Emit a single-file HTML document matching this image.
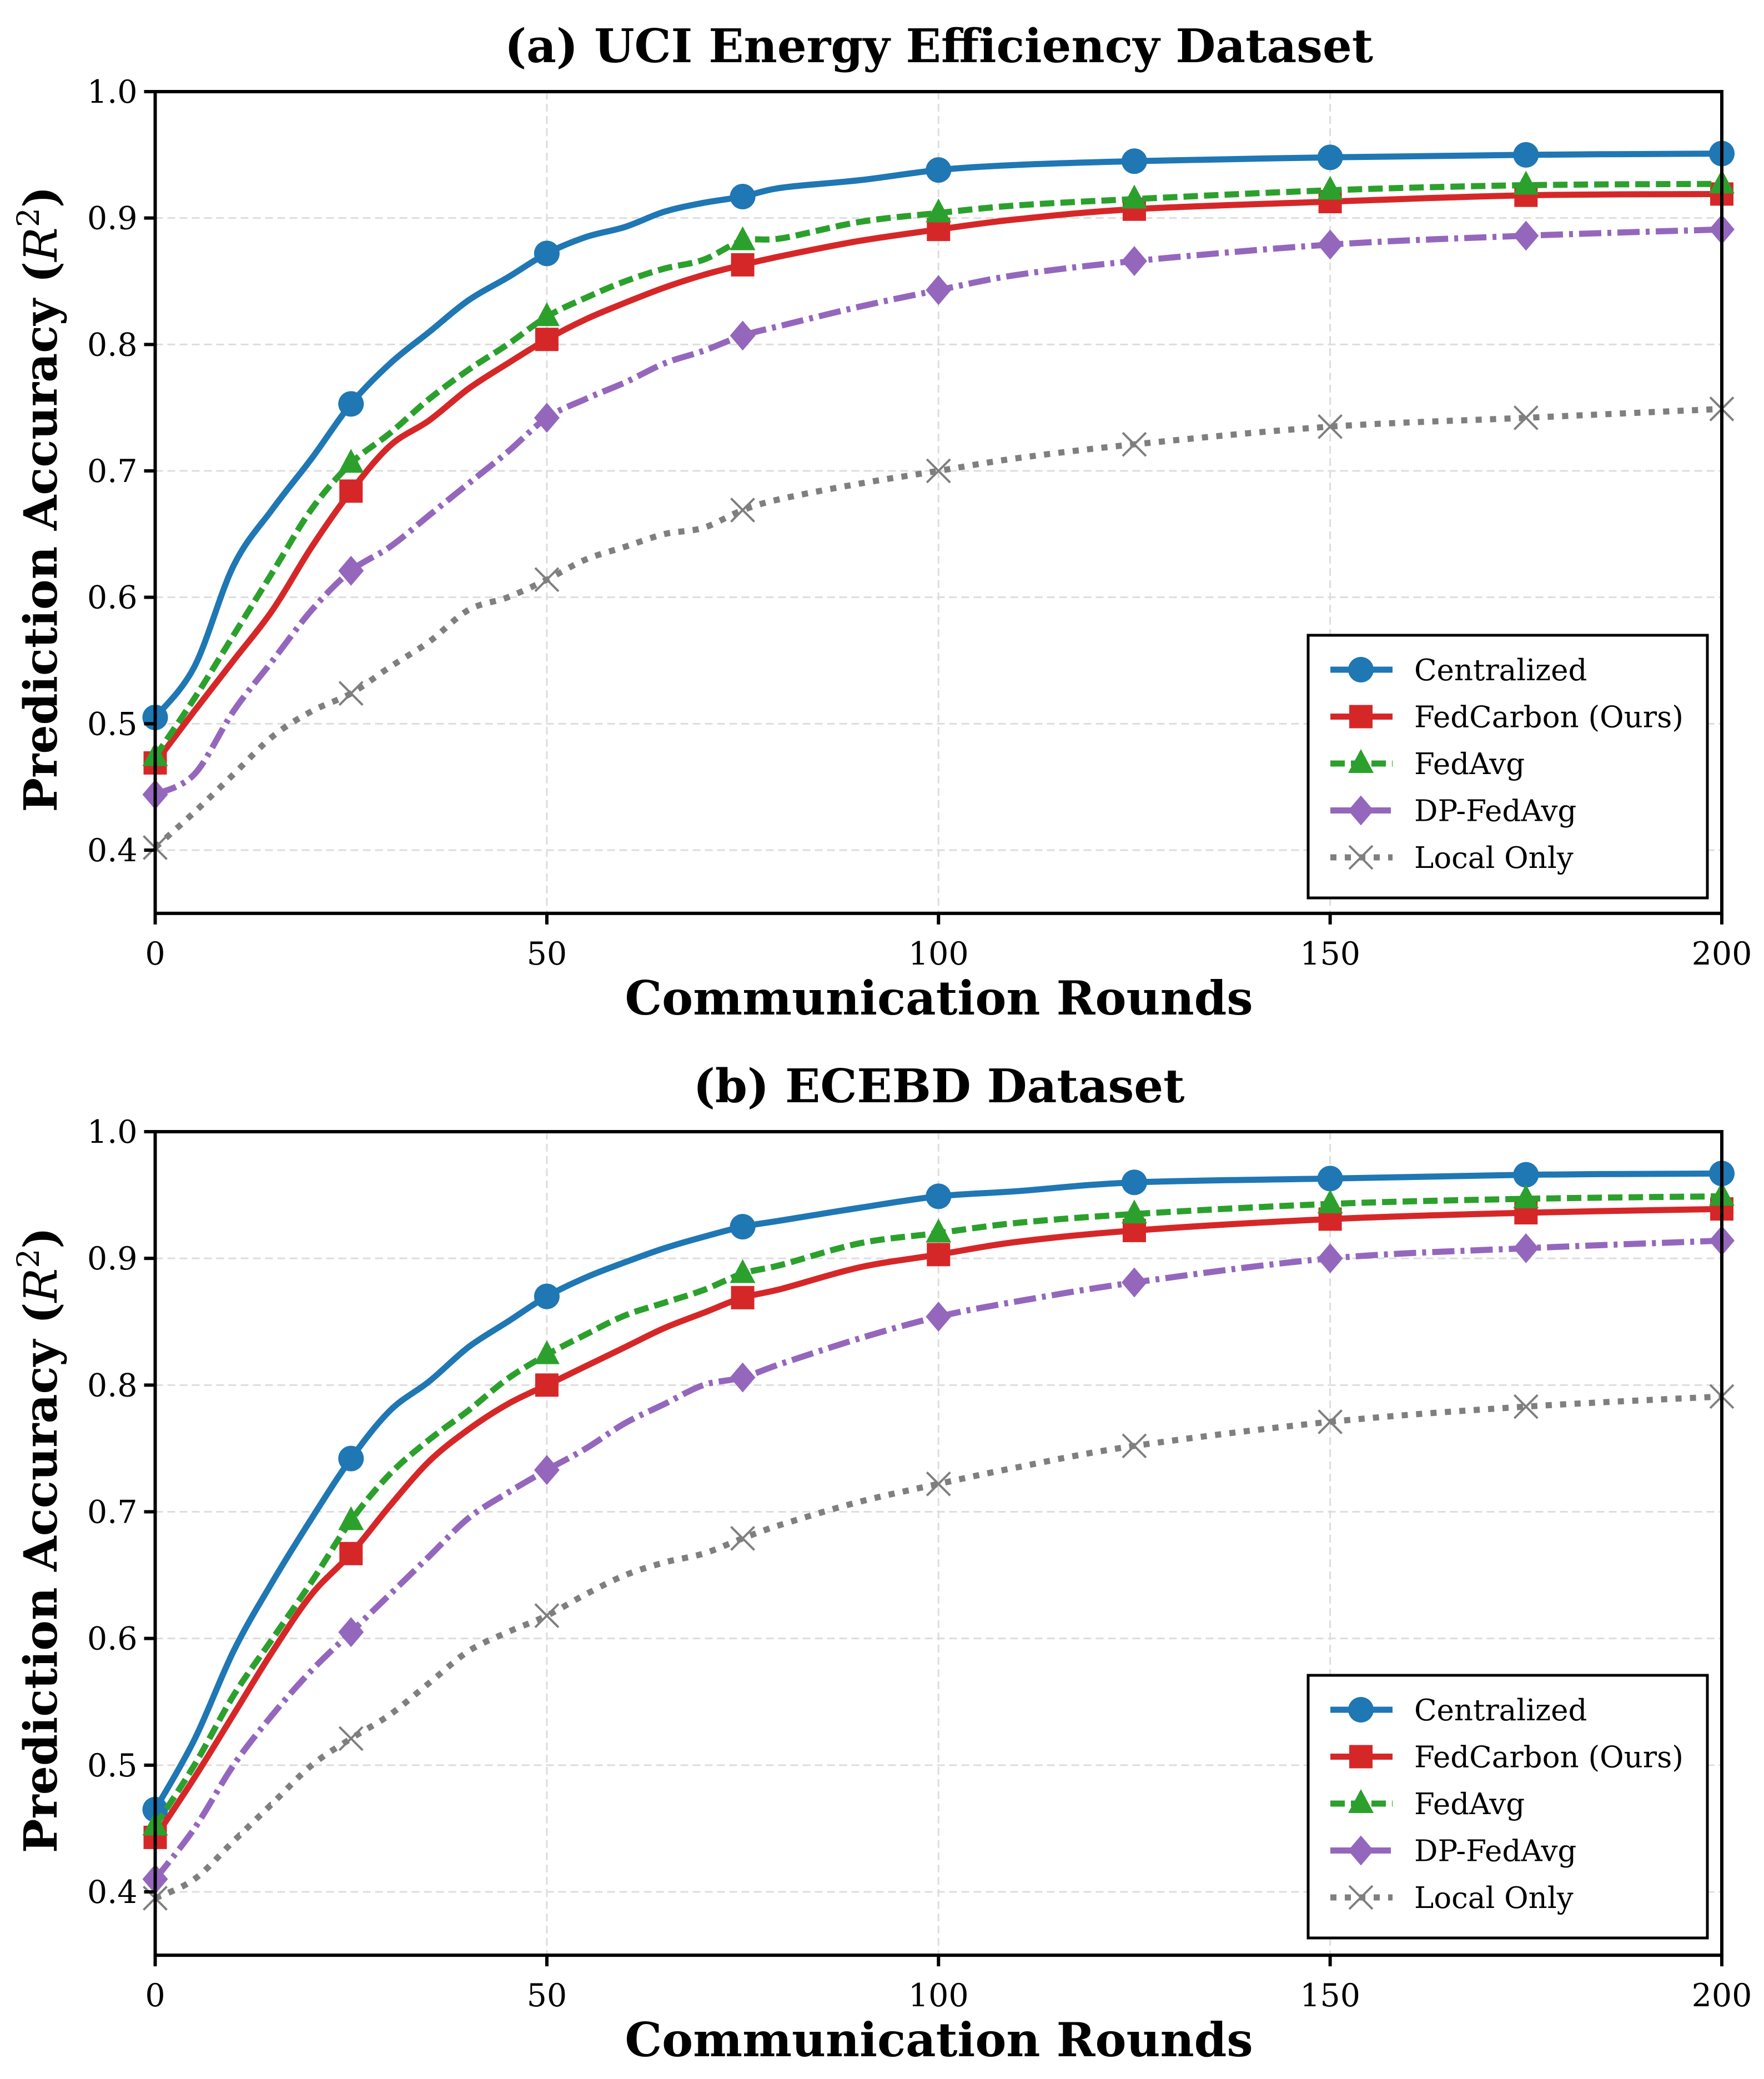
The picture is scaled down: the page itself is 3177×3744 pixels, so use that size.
<!DOCTYPE html>
<html><head><meta charset="utf-8">
<style>
html,body{margin:0;padding:0;background:#fff;}
svg{display:block;}
text{font-family:"DejaVu Serif","Liberation Serif",serif;}
</style></head>
<body>
<svg id="fig" width="3177" height="3744" viewBox="0 0 3177 3744" xmlns="http://www.w3.org/2000/svg"></svg>
<script>
const rounds = [0,5,10,15,20,25,30,35,40,45,50,55,60,65,70,75,80,90,100,110,125,150,175,200];
const markerRounds = [0,25,50,75,100,125,150,175,200];
const xTicks = [0,50,100,150,200];
const yTicks = [0.4,0.5,0.6,0.7,0.8,0.9,1.0];
const seriesNames = ["Centralized","FedCarbon (Ours)","FedAvg","DP-FedAvg","Local Only"];

const aCentral = [0.505,0.545,0.625,0.67,0.71,0.753,0.785,0.81,0.835,0.853,0.872,0.885,0.893,0.905,0.912,0.917,0.924,0.93,0.938,0.942,0.945,0.948,0.95,0.951];
const aFedCarbon = [0.469,0.51,0.55,0.59,0.64,0.684,0.72,0.74,0.765,0.785,0.804,0.82,0.833,0.845,0.855,0.863,0.87,0.882,0.891,0.899,0.907,0.913,0.918,0.919];
const aFedAvg = [0.474,0.52,0.57,0.62,0.67,0.706,0.73,0.757,0.78,0.80,0.822,0.837,0.85,0.86,0.867,0.882,0.884,0.897,0.904,0.91,0.915,0.922,0.926,0.927];
const aDP = [0.444,0.46,0.51,0.55,0.59,0.621,0.64,0.665,0.69,0.715,0.742,0.757,0.77,0.785,0.795,0.807,0.815,0.83,0.843,0.855,0.866,0.879,0.886,0.891];
const aLocal = [0.402,0.43,0.46,0.49,0.51,0.524,0.545,0.565,0.59,0.60,0.614,0.63,0.64,0.65,0.655,0.669,0.678,0.69,0.70,0.71,0.721,0.735,0.742,0.749];

const bCentral = [0.465,0.52,0.59,0.645,0.695,0.742,0.78,0.803,0.83,0.85,0.87,0.885,0.897,0.908,0.917,0.925,0.93,0.94,0.949,0.953,0.96,0.963,0.966,0.967];
const bFedCarbon = [0.443,0.49,0.54,0.59,0.635,0.667,0.705,0.74,0.765,0.785,0.80,0.815,0.83,0.845,0.857,0.869,0.876,0.893,0.903,0.913,0.922,0.931,0.936,0.939];
const bFedAvg = [0.452,0.50,0.555,0.60,0.645,0.693,0.73,0.757,0.78,0.805,0.824,0.84,0.855,0.865,0.875,0.888,0.895,0.912,0.92,0.928,0.935,0.943,0.947,0.949];
const bDP = [0.41,0.45,0.50,0.54,0.575,0.605,0.635,0.665,0.695,0.715,0.733,0.75,0.77,0.785,0.80,0.806,0.817,0.837,0.854,0.866,0.881,0.90,0.908,0.914];
const bLocal = [0.395,0.41,0.44,0.47,0.50,0.521,0.54,0.565,0.59,0.605,0.618,0.635,0.65,0.66,0.667,0.679,0.69,0.708,0.722,0.735,0.752,0.771,0.783,0.791];

const NS = "http://www.w3.org/2000/svg";
const svg = document.getElementById('fig');
function mk(tag, attrs, parent){
  const e = document.createElementNS(NS, tag);
  for (const k in attrs) e.setAttribute(k, attrs[k]);
  (parent||svg).appendChild(e);
  return e;
}
const styles = [
  {color:"#1f77b4", dash:"", marker:"circle", key:"centralized"},
  {color:"#d62728", dash:"", marker:"square", key:"fedcarbon"},
  {color:"#2ca02c", dash:"26,11", marker:"triangle", key:"fedavg"},
  {color:"#9467bd", dash:"40,11,7,11", marker:"diamond", key:"dp-fedavg"},
  {color:"#7f7f7f", dash:"11,15", marker:"x", key:"local-only"}
];
function drawMarker(g, type, cx, cy, color){
  let m;
  if (type==="circle") m = mk('circle',{cx:cx,cy:cy,r:23,fill:color},g);
  else if (type==="square") m = mk('rect',{x:cx-21,y:cy-21,width:42,height:42,fill:color},g);
  else if (type==="triangle") m = mk('polygon',{points:`${cx},${cy-26} ${cx+23},${cy+17} ${cx-23},${cy+17}`,fill:color},g);
  else if (type==="diamond") m = mk('polygon',{points:`${cx},${cy-27} ${cx+23},${cy} ${cx},${cy+27} ${cx-23},${cy}`,fill:color},g);
  else {
    m = mk('path',{d:`M${cx-21},${cy-21}L${cx+21},${cy+21}M${cx-21},${cy+21}L${cx+21},${cy-21}`,stroke:color,'stroke-width':4,fill:'none'},g);
  }
  return m;
}
function smoothPath(pts){
  let d = 'M'+pts[0][0].toFixed(1)+','+pts[0][1].toFixed(1);
  for (let i=0;i<pts.length-1;i++){
    const p0 = pts[Math.max(0,i-1)], p1 = pts[i], p2 = pts[i+1], p3 = pts[Math.min(pts.length-1,i+2)];
    const c1x = p1[0]+(p2[0]-p0[0])/6, c1y = p1[1]+(p2[1]-p0[1])/6;
    const c2x = p2[0]-(p3[0]-p1[0])/6, c2y = p2[1]-(p3[1]-p1[1])/6;
    d += `C${c1x.toFixed(1)},${c1y.toFixed(1)} ${c2x.toFixed(1)},${c2y.toFixed(1)} ${p2[0].toFixed(1)},${p2[1].toFixed(1)}`;
  }
  return d;
}

function panel(id, title, top, yTop, yBot, data, legTop){
  const L=279.5, R=3101;
  const X = r => L + (R-L)*r/200;
  const Y = v => yBot + (v-0.4)*(yTop-yBot)/0.6;
  const bottom = yBot + (yBot-yTop)/0.6*0.05;
  const g = mk('g',{});
  
  
  const t = mk('text',{x:1691,y:top,'text-anchor':'middle','font-size':83,'font-weight':'bold'},g);
  t.textContent = title;
  
  
  xTicks.forEach(v=>{
    const l = mk('line',{x1:X(v),x2:X(v),y1:yTop,y2:bottom,stroke:'#dddddd','stroke-width':3,'stroke-dasharray':'14,8'},g);
    
    
  });
  yTicks.forEach(v=>{
    const l = mk('line',{x1:L,x2:R,y1:Y(v),y2:Y(v),stroke:'#dddddd','stroke-width':3,'stroke-dasharray':'14,8'},g);
    
    
  });
  data.forEach((vals,i)=>{
    const s = styles[i];
    const sg = mk('g',{},g);
    
    
    const pts = vals.map((v,j)=>[X(rounds[j]), Y(v)]);
    const p = mk('path',{d:smoothPath(pts),fill:'none',stroke:s.color,'stroke-width':11,'stroke-linejoin':'round','stroke-linecap':s.dash?'butt':'round'},sg);
    if (s.dash) p.setAttribute('stroke-dasharray', s.dash);
    
    
    markerRounds.forEach(r=>{
      const j = rounds.indexOf(r);
      const m = drawMarker(sg, s.marker, X(r), Y(vals[j]), s.color);
      
      
    });
  });
  const fr = mk('rect',{x:L,y:yTop,width:R-L,height:bottom-yTop,fill:'none',stroke:'#000','stroke-width':6},g);
  
  
  xTicks.forEach(v=>{
    mk('line',{x1:X(v),x2:X(v),y1:bottom,y2:bottom+20,stroke:'#000','stroke-width':6},g);
    const tx = mk('text',{x:X(v),y:bottom+92,'text-anchor':'middle','font-size':57},g);
    tx.textContent = v;
    
    
  });
  yTicks.forEach(v=>{
    mk('line',{x1:L-20,x2:L,y1:Y(v),y2:Y(v),stroke:'#000','stroke-width':6},g);
    const tx = mk('text',{x:L-32,y:Y(v)+20,'text-anchor':'end','font-size':57},g);
    tx.textContent = v.toFixed(1);
    
    
  });
  const xl = mk('text',{x:1691,y:bottom+182,'text-anchor':'middle','font-size':84,'font-weight':'bold'},g);
  xl.textContent = 'Communication Rounds';
  
  
  const cy = (yTop+bottom)/2 - 6;
  const yl = mk('text',{x:0,y:0,'text-anchor':'middle','font-size':82,'font-weight':'bold',transform:`translate(102,${cy}) rotate(-90)`},g);
  yl.innerHTML = 'Prediction Accuracy (<tspan font-style="italic" font-weight="normal">R</tspan><tspan font-size="55" font-weight="normal" dy="-32">2</tspan><tspan dy="32">)</tspan>';
  
  
  const lg = mk('g',{},g);
  
  
  mk('rect',{x:2356,y:legTop,width:719,height:473,fill:'#fff',stroke:'#000','stroke-width':5},lg);
  seriesNames.forEach((name,i)=>{
    const s = styles[i];
    const ry = legTop + 62 + i*84.5;
    const e = mk('g',{},lg);
    
    
    const ln = mk('line',{x1:2396,x2:2508,y1:ry,y2:ry,stroke:s.color,'stroke-width':11},e);
    if (s.dash) ln.setAttribute('stroke-dasharray', s.dash);
    drawMarker(e, s.marker, 2451, ry, s.color);
    const tx = mk('text',{x:2547,y:ry+19,'font-size':53},e);
    tx.textContent = name;
  });
}
panel('panel-a','(a) UCI Energy Efficiency Dataset',112,165,1531,[aCentral,aFedCarbon,aFedAvg,aDP,aLocal],1144);
panel('panel-b','(b) ECEBD Dataset',1985,2038,3407,[bCentral,bFedCarbon,bFedAvg,bDP,bLocal],3017);
</script>
</body></html>
